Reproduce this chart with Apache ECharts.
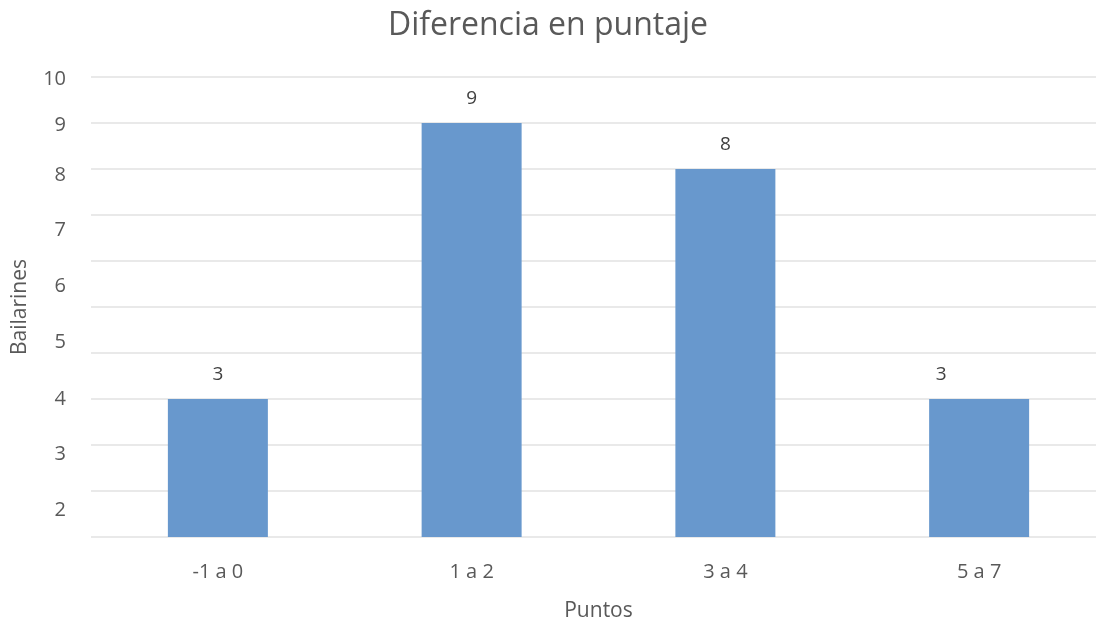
<!DOCTYPE html>
<html>
<head>
<meta charset="utf-8">
<script src="https://cdn.jsdelivr.net/npm/echarts@6/dist/echarts.min.js"></script>
<style>
html,body{margin:0;padding:0;background:#fff;}
#chart{width:1096px;height:624px;}
</style>
</head>
<body>
<div id="chart"></div>
<script>
var categories = ['-1 a 0', '1 a 2', '3 a 4', '5 a 7'];
var values = [3, 9, 8, 3];
var yTickLabels = ['10', '9', '8', '7', '6', '5', '4', '3', '2'];
var yTickValues = [9.96, 8.96, 7.87, 6.67, 5.46, 4.24, 3.0, 1.80, 0.59];

var FONT = 'Open Sans';
var chart = echarts.init(document.getElementById('chart'), null, {renderer: 'canvas'});

var seriesData = values.map(function (v, i) {
  if (i === 3) {
    return {value: v, label: {offset: [-38, 0]}};
  }
  return v;
});

chart.setOption({
  backgroundColor: '#ffffff',
  animation: false,
  title: {
    text: 'Diferencia en puntaje',
    left: 'center',
    top: 5,
    textStyle: {fontFamily: FONT, fontSize: 32, fontWeight: 'normal', color: '#595959'}
  },
  grid: {left: 91, right: -10, top: 77, bottom: 87, containLabel: false, outerBoundsMode: 'none'},
  xAxis: {
    type: 'category',
    data: categories,
    name: 'Puntos',
    nameLocation: 'middle',
    nameGap: 64,
    nameTextStyle: {fontFamily: FONT, fontSize: 21, color: '#595959'},
    axisLine: {show: false},
    axisTick: {show: false},
    axisLabel: {fontFamily: FONT, fontSize: 20, color: '#595959', margin: 25}
  },
  yAxis: {
    type: 'value',
    min: 0,
    max: 10,
    interval: 1,
    name: 'Bailarines',
    nameLocation: 'middle',
    nameGap: 60,
    nameTextStyle: {fontFamily: FONT, fontSize: 21, color: '#595959'},
    axisLine: {show: false},
    axisTick: {show: false},
    splitLine: {show: true, lineStyle: {color: '#e2e2e2', width: 1.5}},
    axisLabel: {
      fontFamily: FONT,
      fontSize: 20,
      color: '#595959',
      margin: 25,
      customValues: yTickValues,
      formatter: function (v) {
        var best = 0, bd = Infinity;
        for (var i = 0; i < yTickValues.length; i++) {
          var d = Math.abs(yTickValues[i] - v);
          if (d < bd) { bd = d; best = i; }
        }
        return yTickLabels[best];
      }
    }
  },
  series: [{
    type: 'bar',
    data: seriesData,
    barWidth: 100,
    itemStyle: {color: '#6898cd'},
    label: {
      show: true,
      position: 'top',
      distance: 15,
      fontFamily: FONT,
      fontSize: 19,
      color: '#404040'
    }
  }]
});
</script>
</body>
</html>
